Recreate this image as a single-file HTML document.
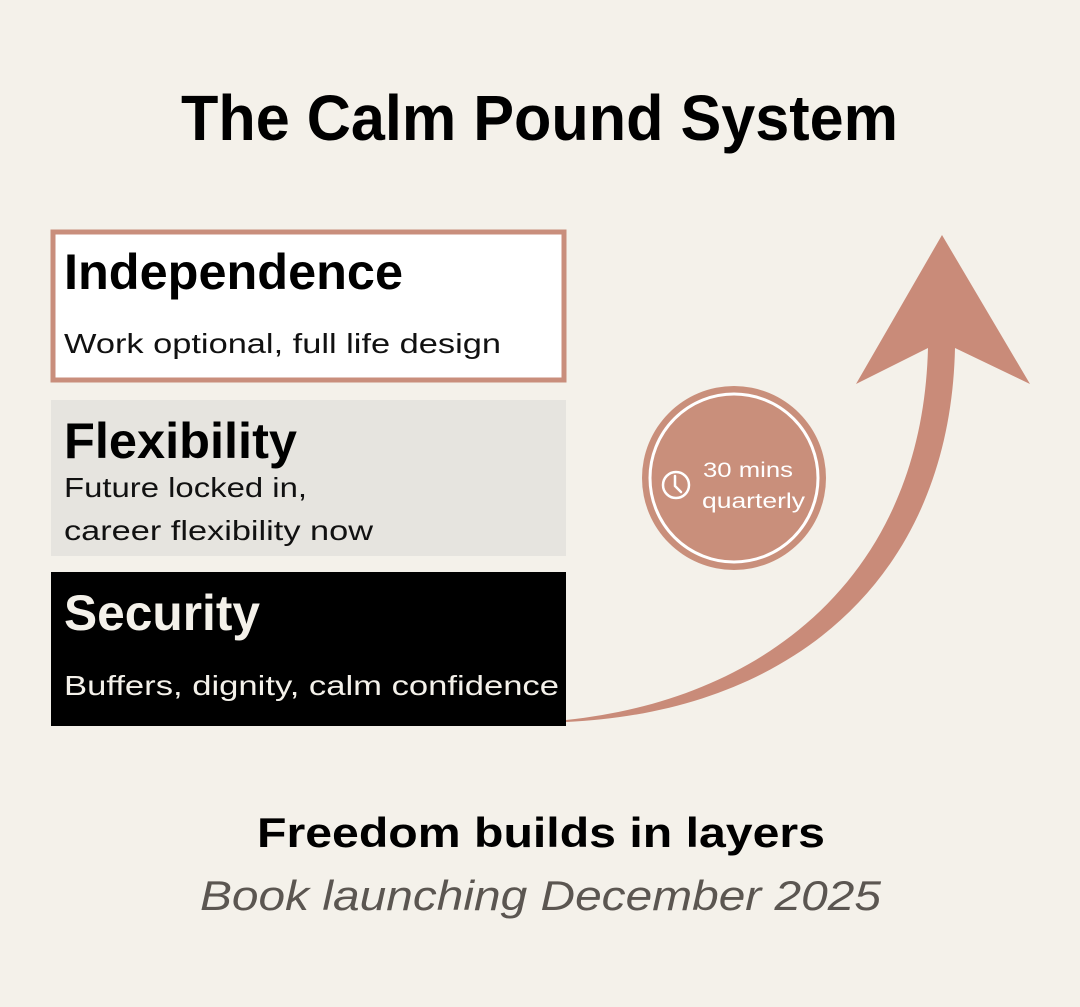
<!DOCTYPE html>
<html><head><meta charset="utf-8"><style>
html,body{margin:0;padding:0;background:#f4f1ea;}
svg{display:block;}
text{font-family:"Liberation Sans",sans-serif;}
</style></head><body>
<svg width="1080" height="1007" viewBox="0 0 1080 1007">
<rect width="1080" height="1007" fill="#f4f1ea"/>
<text x="181" y="140" font-size="64" font-weight="bold" fill="#000" textLength="717" lengthAdjust="spacingAndGlyphs">The Calm Pound System</text>

<rect x="53" y="232" width="511" height="148" fill="#fff" stroke="#c98e7c" stroke-width="5"/>
<text x="64" y="289" font-size="50" font-weight="bold" fill="#000" textLength="339" lengthAdjust="spacingAndGlyphs">Independence</text>
<text x="64" y="353" font-size="28" fill="#111" textLength="437" lengthAdjust="spacingAndGlyphs">Work optional, full life design</text>

<rect x="51" y="400" width="515" height="156" fill="#e6e4df"/>
<text x="64" y="458" font-size="50" font-weight="bold" fill="#000" textLength="233" lengthAdjust="spacingAndGlyphs">Flexibility</text>
<text x="64" y="497" font-size="28" fill="#111" textLength="243" lengthAdjust="spacingAndGlyphs">Future locked in,</text>
<text x="64" y="540" font-size="28" fill="#111" textLength="309" lengthAdjust="spacingAndGlyphs">career flexibility now</text>

<rect x="51" y="572" width="515" height="154" fill="#000"/>
<text x="64" y="630" font-size="50" font-weight="bold" fill="#f4f1ea" textLength="196" lengthAdjust="spacingAndGlyphs">Security</text>
<text x="64" y="695" font-size="28" fill="#f4f1ea" textLength="495" lengthAdjust="spacingAndGlyphs">Buffers, dignity, calm confidence</text>

<path d="M566,720 C760,700 922,580 928,348 L856,384 L942,235 L1030,384 L955,348 C950,580 790,712 566,722 Z" fill="#c98b79"/>

<circle cx="734" cy="478" r="92" fill="#c98f7b"/>
<circle cx="734" cy="478" r="84" fill="none" stroke="#fff" stroke-width="3"/>
<circle cx="676" cy="485" r="13" fill="none" stroke="#fff" stroke-width="2.5"/>
<path d="M675,476 L675,486 L681,492" fill="none" stroke="#fff" stroke-width="2.5" stroke-linecap="round"/>
<text x="703" y="477" font-size="21" fill="#fff" textLength="90" lengthAdjust="spacingAndGlyphs">30 mins</text>
<text x="702" y="508" font-size="21" fill="#fff" textLength="103" lengthAdjust="spacingAndGlyphs">quarterly</text>

<text x="257" y="847" font-size="42" font-weight="bold" fill="#000" textLength="568" lengthAdjust="spacingAndGlyphs">Freedom builds in layers</text>
<text x="200" y="910" font-size="42" font-style="italic" fill="#5b5651" textLength="681" lengthAdjust="spacingAndGlyphs">Book launching December 2025</text>
</svg>
</body></html>
